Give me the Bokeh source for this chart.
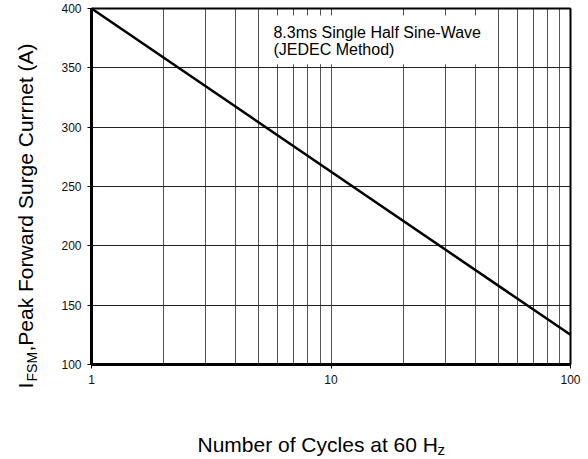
import math
from bokeh.plotting import figure
from bokeh.models import (FixedTicker, Label, BoxAnnotation, Range1d,
                          PrintfTickFormatter, LinearAxis)
from bokeh.embed import file_html
from bokeh.resources import INLINE

# ---- data ----
cycles = [1, 100]
surge_current = [400, 125]
x_major_ticks = [1, 10, 100]
x_minor_ticks = [2, 3, 4, 5, 6, 7, 8, 9, 20, 30, 40, 50, 60, 70, 80, 90]
y_ticks = [100, 150, 200, 250, 300, 350, 400]
note_lines = ["8.3ms Single Half Sine-Wave", "(JEDEC Method)"]
x_title = "Number of Cycles at 60 H"
x_title_sub = "z"
y_title_main = "I"
y_title_sub = "FSM"
y_title_rest = ",Peak Forward Surge Currnet (A)"

FONT = "Liberation Sans"
W, H = 588, 459
# plot box in pixels
PL, PR, PT, PB = 91, 570, 8, 364
XMIN, XMAX = x_major_ticks[0], x_major_ticks[-1]
YMIN, YMAX = y_ticks[0], y_ticks[-1]
dec = (PR - PL) / math.log10(XMAX / XMIN)
ypp = (YMAX - YMIN) / (PB - PT)
x_lo = XMIN * 10 ** (-PL / dec)
x_hi = XMAX * 10 ** ((W - PR) / dec)
y_hi = YMAX + PT * ypp
y_lo = YMIN - (H - PB) * ypp

p = figure(width=W, height=H, x_axis_type="log",
           x_range=Range1d(x_lo, x_hi), y_range=Range1d(y_lo, y_hi),
           output_backend="svg", toolbar_location=None,
           min_border_left=0, min_border_right=0,
           min_border_top=0, min_border_bottom=0)
p.background_fill_color = "white"
p.border_fill_color = "white"
p.outline_line_color = None

p.xaxis.ticker = FixedTicker(ticks=x_major_ticks, minor_ticks=x_minor_ticks)
p.xaxis.formatter = PrintfTickFormatter(format="%d")
p.yaxis.ticker = FixedTicker(ticks=y_ticks)
p.xaxis.fixed_location = YMIN
p.yaxis.fixed_location = XMIN
p.xaxis.bounds = (XMIN, XMAX)
p.yaxis.bounds = (YMIN, YMAX)

for ax in (p.xaxis, p.yaxis):
    ax.axis_line_width = 3
    ax.axis_line_color = "black"
    ax.major_tick_in = 0
    ax.major_tick_out = 4
    ax.major_tick_line_color = "black"
    ax.minor_tick_line_color = None
    ax.major_label_text_font = FONT
    ax.major_label_text_font_size = "12px"
    ax.major_label_text_color = "#111111"
    ax.major_label_standoff = 6

# top and right borders of the plot box
top_ax = LinearAxis(fixed_location=YMAX, bounds=(XMIN, XMAX),
                    ticker=FixedTicker(ticks=[]), axis_line_width=2,
                    major_tick_line_color=None, minor_tick_line_color=None,
                    major_label_text_font_size="0px")
right_ax = LinearAxis(fixed_location=XMAX, bounds=(YMIN, YMAX),
                      ticker=FixedTicker(ticks=[]), axis_line_width=2,
                      major_tick_line_color=None, minor_tick_line_color=None,
                      major_label_text_font_size="0px")
p.add_layout(top_ax, "above")
p.add_layout(right_ax, "right")

p.xgrid.grid_line_color = "#555555"
p.xgrid.grid_line_width = 1
p.xgrid.minor_grid_line_color = "#555555"
p.xgrid.minor_grid_line_width = 1
p.xgrid.cross_bounds = (YMIN, YMAX)
p.ygrid.grid_line_color = "#222222"
p.ygrid.grid_line_width = 1
p.ygrid.cross_bounds = (XMIN, XMAX)

p.line(cycles, surge_current, line_color="black", line_width=2.5)

# white box behind the note
p.add_layout(BoxAnnotation(left=5.45, right=44.5, bottom=353, top=394,
                           fill_color="white", fill_alpha=1.0, line_color=None,
                           level="overlay"))
p.add_layout(Label(x=5.75, y=379.8, text=note_lines[0], text_font=FONT,
                   text_font_size="16px", text_color="black",
                   text_baseline="alphabetic", level="overlay"))
p.add_layout(Label(x=5.75, y=365.4, text=note_lines[1], text_font=FONT,
                   text_font_size="16px", text_color="black",
                   text_baseline="alphabetic", level="overlay"))

def lab(text, ix, iy, size, angle=0.0):
    p.add_layout(Label(x=ix, y=H - iy, x_units="screen", y_units="screen",
                       text=text, text_font=FONT, text_font_size=size,
                       text_color="black", text_align="left",
                       text_baseline="alphabetic", angle=angle,
                       level="overlay"))

# x title
lab(x_title, 197, 444, "21px")
lab(x_title_sub, 437, 449, "15px")
# y title (rotated)
lab(y_title_main, 25, 388, "21px", math.pi / 2)
lab(y_title_sub, 31, 381, "14px", math.pi / 2)
lab(y_title_rest, 25, 351, "21px", math.pi / 2)

open("out.html", "w").write(file_html(p, INLINE))
